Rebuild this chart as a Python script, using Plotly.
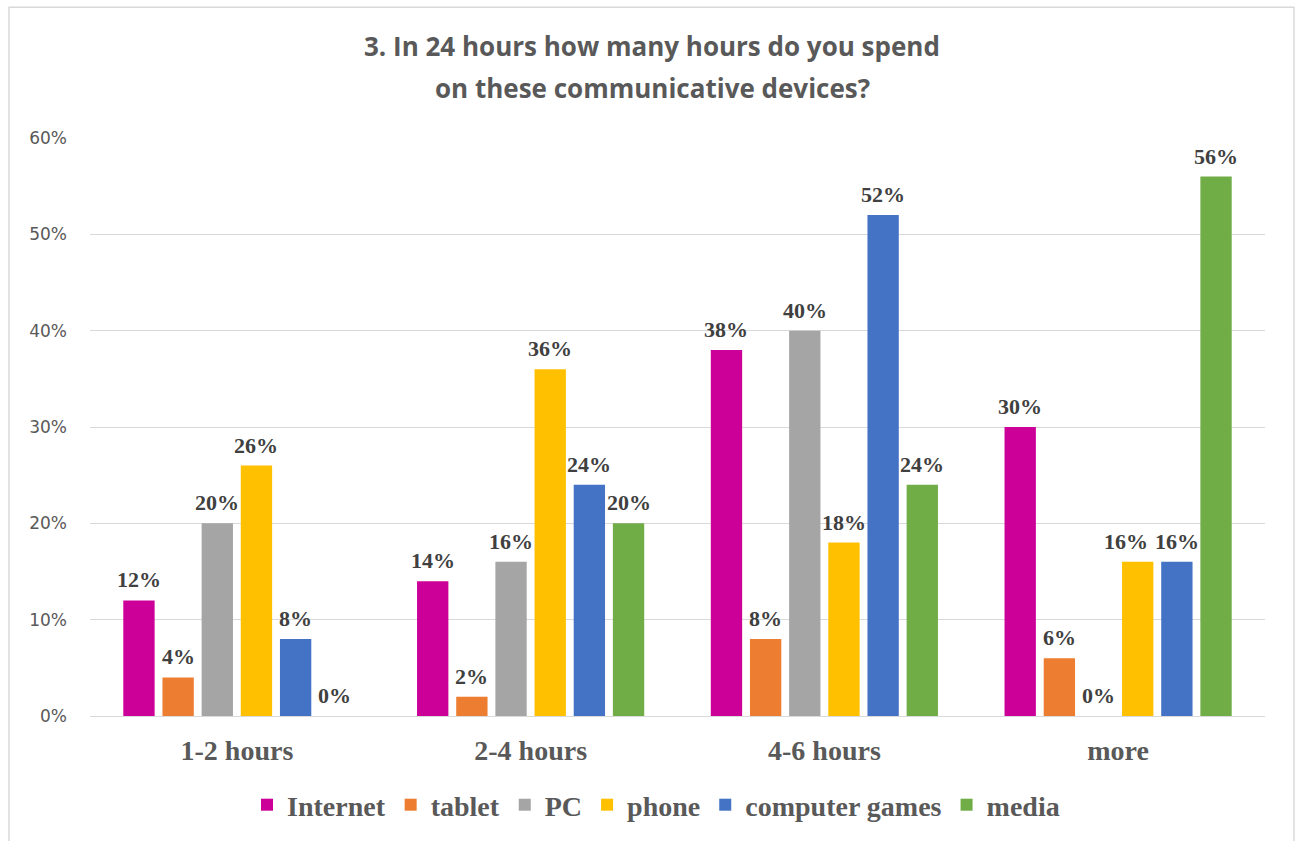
import plotly.graph_objects as go

# Survey answers: share of respondents per daily-usage bracket
categories = ["1-2 hours", "2-4 hours", "4-6 hours", "more"]
series_names = ["Internet", "tablet", "PC", "phone", "computer games", "media"]
internet = [0.12, 0.14, 0.38, 0.30]
tablet = [0.04, 0.02, 0.08, 0.06]
pc = [0.20, 0.16, 0.40, 0.00]
phone = [0.26, 0.36, 0.18, 0.16]
computer_games = [0.08, 0.24, 0.52, 0.16]
media = [0.00, 0.20, 0.24, 0.56]
y_ticks = [0, 0.1, 0.2, 0.3, 0.4, 0.5, 0.6]

series_values = [internet, tablet, pc, phone, computer_games, media]
colors = ["#CC0099", "#ED7D31", "#A5A5A5", "#FFC000", "#4472C4", "#70AD47"]

W, H = 1300, 841
ML, MR, MT, MB = 90, 35, 138, 124
plot_w = W - ML - MR
plot_h = H - MT - MB
BARGAP = 0.2
BARGROUPGAP = 0.2

# nudge for labels that would otherwise collide with a neighbour (px)
label_nudge = {("phone", "more"): -12}

fig = go.Figure()
for name, vals, col in zip(series_names, series_values, colors):
    fig.add_trace(go.Bar(
        name=name, x=categories, y=vals,
        marker=dict(color=col, line=dict(width=0)),
        hoverinfo="x+y+name",
    ))

# Value labels above each bar, shifted horizontally into its slot of the group
n = len(series_names)
slot = plot_w / len(categories) * (1 - BARGAP) / n
annotations = []
for i, (name, vals) in enumerate(zip(series_names, series_values)):
    shift = (i - (n - 1) / 2) * slot
    for cat, v in zip(categories, vals):
        annotations.append(dict(
            x=cat, y=v, xref="x", yref="y",
            xshift=shift + label_nudge.get((name, cat), 0), yshift=6,
            text=f"{round(v * 100)}%", showarrow=False,
            xanchor="center", yanchor="bottom",
            font=dict(family="Liberation Serif", size=22, color="#404040", weight="bold"),
        ))

# Two-line chart title
title_font = dict(family="Open Sans", size=26, color="#595959", weight="bold")
title_x = (652 - ML) / plot_w
for txt, py in [("3. In 24 hours how many hours do you spend", 46),
                ("on these communicative devices?", 88)]:
    annotations.append(dict(
        x=title_x, y=(H - MB - py) / plot_h, xref="paper", yref="paper",
        text=txt, showarrow=False, xanchor="center", yanchor="middle",
        font=title_font,
    ))

fig.update_layout(
    width=W, height=H,
    margin=dict(l=ML, r=MR, t=MT, b=MB, pad=0),
    paper_bgcolor="white", plot_bgcolor="white",
    barmode="group", bargap=BARGAP, bargroupgap=BARGROUPGAP,
    showlegend=True,
    legend=dict(
        orientation="h", x=(656 - ML) / plot_w, xanchor="center",
        y=(H - MB - 805) / plot_h, yanchor="middle",
        font=dict(family="Liberation Serif", size=28, color="#595959", weight="bold"),
        itemsizing="constant", traceorder="normal",
    ),
    annotations=annotations,
    xaxis=dict(
        showgrid=False, showline=True, linecolor="#D9D9D9", linewidth=1,
        ticks="", ticklabelstandoff=9,
        tickfont=dict(family="Liberation Serif", size=28, color="#595959", weight="bold"),
    ),
    yaxis=dict(
        range=[0, 0.6], tickvals=y_ticks, tickformat=".0%",
        showgrid=True, gridcolor="#D9D9D9", gridwidth=1,
        zeroline=False, showline=False, ticks="",
        ticklabelstandoff=22,
        tickfont=dict(family="DejaVu Sans", size=17, color="#595959"),
    ),
    shapes=[dict(
        type="rect", xref="paper", yref="paper",
        x0=(9 - ML) / plot_w, x1=(1294 - ML) / plot_w,
        y0=(H - MB - 850) / plot_h, y1=(H - MB - 7) / plot_h,
        line=dict(color="#D9D9D9", width=1.5), fillcolor="rgba(0,0,0,0)",
        layer="below",
    )],
)

fig.write_html("out.html")
